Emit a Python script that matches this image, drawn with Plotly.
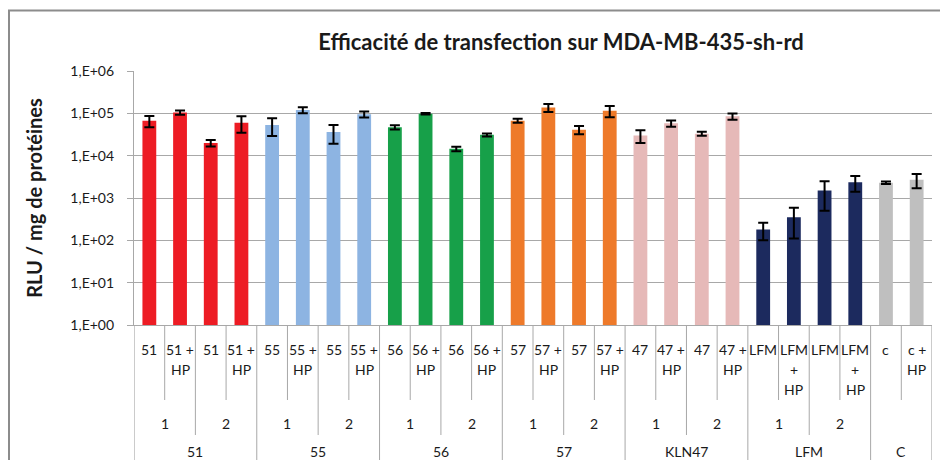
import plotly.graph_objects as go

# Transfection efficiency (RLU / mg protein), mean and error per condition
level1 = ["51", "51 + HP", "51", "51 + HP",
          "55", "55 + HP", "55", "55 + HP",
          "56", "56 + HP", "56", "56 + HP",
          "57", "57 + HP", "57", "57 + HP",
          "47", "47 + HP", "47", "47 + HP",
          "LFM", "LFM + HP", "LFM", "LFM + HP",
          "c", "c + HP"]
level2 = ["1", "1", "2", "2"] * 6 + ["", ""]
level3 = (["51"] * 4 + ["55"] * 4 + ["56"] * 4 + ["57"] * 4
          + ["KLN47"] * 4 + ["LFM"] * 4 + ["C"] * 2)

rlu = [6.7e4, 1.05e5, 2.0e4, 6.0e4,
       5.3e4, 1.2e5, 3.6e4, 9.5e4,
       4.7e4, 9.8e4, 1.45e4, 3.1e4,
       6.7e4, 1.37e5, 4.1e4, 1.15e5,
       3.0e4, 5.8e4, 3.3e4, 8.5e4,
       180, 350, 1500, 2350,
       2300, 2700]
rlu_err = [2.0e4, 1.2e4, 3.5e3, 2.5e4,
           2.4e4, 2.0e4, 1.7e4, 1.5e4,
           5.5e3, 4.0e3, 1.8e3, 2.5e3,
           7.0e3, 3.0e4, 9.0e3, 3.4e4,
           1.0e4, 1.0e4, 3.5e3, 1.4e4,
           80, 240, 1000, 950,
           150, 1000]

group_colors = {"51": "#ED1C24", "55": "#8DB4E2", "56": "#17A049",
                "57": "#EE7A2A", "KLN47": "#E6B9B8", "LFM": "#1C2A5E",
                "C": "#BFBFBF"}

tick_vals = [1, 10, 100, 1000, 1e4, 1e5, 1e6]
tick_text = ["1,E+00", "1,E+01", "1,E+02", "1,E+03", "1,E+04", "1,E+05", "1,E+06"]

FONT = "Lato"
GRID = "#A8A8A8"
TEXT = "#1a1a1a"
W, H = 940, 460
L, R, T, B = 134, 8, 71, 135
PLOT_H = H - T - B

x_idx = list(range(len(rlu)))

fig = go.Figure(go.Bar(
    x=x_idx, y=rlu,
    width=0.45,
    marker=dict(color=[group_colors[g] for g in level3], line=dict(width=0)),
    error_y=dict(type="data", array=rlu_err, visible=True,
                 color="black", thickness=2, width=5),
    showlegend=False,
))


def px_to_paper(py):
    # vertical pixel (from page top) -> paper y
    return (H - B - py) / PLOT_H


def wrap(label):
    # split a condition name into the lines shown under its bar
    if label == "LFM + HP":
        return ["LFM", "+", "HP"]
    if label.endswith(" + HP"):
        return [label[:-3], "HP"]
    return [label]


annotations = []
shapes = []

# innermost labels
for i, lab in enumerate(level1):
    for k, line in enumerate(wrap(lab)):
        annotations.append(dict(
            x=i, y=0, xref="x", yref="paper", text=line, showarrow=False,
            yanchor="middle", yshift=-(349 + 20 * k - (H - B)),
            font=dict(family=FONT, size=14, color=TEXT)))

# middle level labels (pairs)
i = 0
while i < len(level2):
    j = i
    while j + 1 < len(level2) and level2[j + 1] == level2[i] and level3[j + 1] == level3[i]:
        j += 1
    if level2[i]:
        annotations.append(dict(
            x=(i + j) / 2, y=0, xref="x", yref="paper", text=level2[i],
            showarrow=False, yanchor="middle", yshift=-(423 - (H - B)),
            font=dict(family=FONT, size=14, color=TEXT)))
    i = j + 1

# outer level labels (groups)
i = 0
while i < len(level3):
    j = i
    while j + 1 < len(level3) and level3[j + 1] == level3[i]:
        j += 1
    annotations.append(dict(
        x=(i + j) / 2, y=0, xref="x", yref="paper", text=level3[i],
        showarrow=False, yanchor="middle", yshift=-(451 - (H - B)),
        font=dict(family=FONT, size=14, color=TEXT)))
    i = j + 1

# separators of the category table
y_short = px_to_paper(400)
y_mid = px_to_paper(435)
y_full = px_to_paper(470)
for b in range(len(level1) - 1):
    if level3[b] != level3[b + 1]:
        y_end = y_full
    elif level2[b] != level2[b + 1]:
        y_end = y_mid
    else:
        y_end = y_short
    shapes.append(dict(type="line", xref="x", yref="paper",
                       x0=b + 0.5, x1=b + 0.5, y0=0, y1=y_end,
                       line=dict(color=GRID, width=1)))
for xb in (-0.5, len(level1) - 0.5):
    shapes.append(dict(type="line", xref="x", yref="paper",
                       x0=xb, x1=xb, y0=0, y1=y_full,
                       line=dict(color=GRID, width=1.2)))

# chart border
shapes.append(dict(type="rect", xref="paper", yref="paper",
                   x0=(9 - L) / (W - L - R), x1=(950 - L) / (W - L - R),
                   y0=px_to_paper(480), y1=px_to_paper(10.5),
                   line=dict(color="#8C8C8C", width=2)))

fig.update_layout(
    width=W, height=H,
    margin=dict(l=L, r=R, t=T, b=B),
    paper_bgcolor="white", plot_bgcolor="white",
    title=dict(text="<b>Efficacité de transfection sur MDA-MB-435-sh-rd</b>",
               x=(561 - L) / (W - L - R), xref="paper", xanchor="center",
               y=1 - 42 / H, yanchor="middle",
               font=dict(family=FONT, size=22, color=TEXT)),
    xaxis=dict(range=[-0.5, len(rlu) - 0.5], showticklabels=False,
               ticks="", showgrid=False, zeroline=False,
               showline=True, linecolor=GRID, linewidth=1.2),
    yaxis=dict(type="log", range=[0, 6], tickvals=tick_vals, ticktext=tick_text,
               showgrid=True, gridcolor=GRID, gridwidth=1,
               ticks="outside", ticklen=6, tickcolor=GRID,
               ticklabelstandoff=10,
               showline=True, linecolor=GRID, linewidth=1.2,
               tickfont=dict(family=FONT, size=14, color=TEXT),
               title=dict(text="<b>RLU / mg de protéines</b>", standoff=22,
                          font=dict(family=FONT, size=20, color=TEXT))),
    annotations=annotations,
    shapes=shapes,
)

fig.write_html("out.html")
